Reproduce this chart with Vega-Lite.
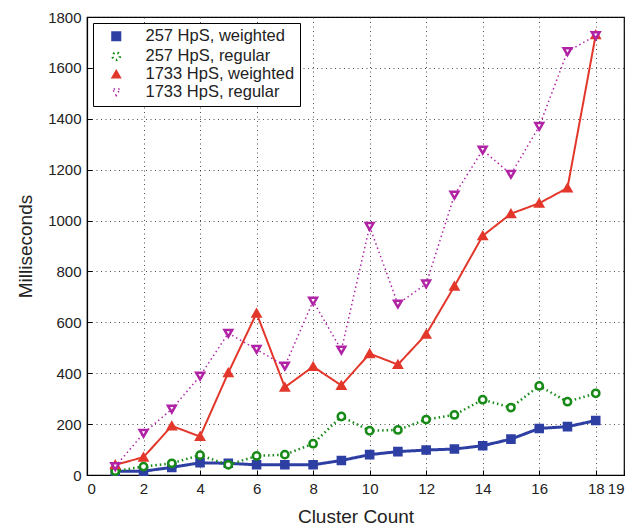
{
  "$schema": "https://vega.github.io/schema/vega-lite/v6.json",
  "autosize": {"type": "none"},
  "padding": {"left": 87, "top": 17, "right": 18, "bottom": 56},
  "width": 537,
  "height": 458,
  "background": "white",
  "config": {
    "font": "Liberation Sans",
    "view": {"stroke": "black", "strokeWidth": 1.2},
    "axis": {
      "labelFont": "Liberation Sans",
      "labelFontSize": 15,
      "labelColor": "#222",
      "titleFont": "Liberation Sans",
      "titleFontSize": 19,
      "titleFontWeight": "normal",
      "titleColor": "#222",
      "domainColor": "black",
      "domainWidth": 1.2,
      "tickColor": "black",
      "tickSize": -5,
      "labelPadding": 11,
      "gridColor": "#222",
      "gridDash": [1, 3.5],
      "gridWidth": 1,
      "gridOpacity": 0.8
    },
    "legend": {
      "labelFont": "Liberation Sans",
      "labelFontSize": 16.5,
      "labelColor": "#222"
    }
  },
  "data": {
    "values": [
      {"x": 1, "series": "257 HpS, weighted", "y": 15},
      {"x": 2, "series": "257 HpS, weighted", "y": 15},
      {"x": 3, "series": "257 HpS, weighted", "y": 30},
      {"x": 4, "series": "257 HpS, weighted", "y": 48},
      {"x": 5, "series": "257 HpS, weighted", "y": 46},
      {"x": 6, "series": "257 HpS, weighted", "y": 40},
      {"x": 7, "series": "257 HpS, weighted", "y": 40},
      {"x": 8, "series": "257 HpS, weighted", "y": 40},
      {"x": 9, "series": "257 HpS, weighted", "y": 57},
      {"x": 10, "series": "257 HpS, weighted", "y": 80},
      {"x": 11, "series": "257 HpS, weighted", "y": 92},
      {"x": 12, "series": "257 HpS, weighted", "y": 98},
      {"x": 13, "series": "257 HpS, weighted", "y": 102},
      {"x": 14, "series": "257 HpS, weighted", "y": 115},
      {"x": 15, "series": "257 HpS, weighted", "y": 141},
      {"x": 16, "series": "257 HpS, weighted", "y": 183},
      {"x": 17, "series": "257 HpS, weighted", "y": 190},
      {"x": 18, "series": "257 HpS, weighted", "y": 214},
      {"x": 1, "series": "257 HpS, regular", "y": 15},
      {"x": 2, "series": "257 HpS, regular", "y": 33},
      {"x": 3, "series": "257 HpS, regular", "y": 46},
      {"x": 4, "series": "257 HpS, regular", "y": 78},
      {"x": 5, "series": "257 HpS, regular", "y": 40},
      {"x": 6, "series": "257 HpS, regular", "y": 75},
      {"x": 7, "series": "257 HpS, regular", "y": 80},
      {"x": 8, "series": "257 HpS, regular", "y": 123},
      {"x": 9, "series": "257 HpS, regular", "y": 230},
      {"x": 10, "series": "257 HpS, regular", "y": 174},
      {"x": 11, "series": "257 HpS, regular", "y": 177},
      {"x": 12, "series": "257 HpS, regular", "y": 218},
      {"x": 13, "series": "257 HpS, regular", "y": 236},
      {"x": 14, "series": "257 HpS, regular", "y": 296},
      {"x": 15, "series": "257 HpS, regular", "y": 265},
      {"x": 16, "series": "257 HpS, regular", "y": 350},
      {"x": 17, "series": "257 HpS, regular", "y": 288},
      {"x": 18, "series": "257 HpS, regular", "y": 321},
      {"x": 1, "series": "1733 HpS, weighted", "y": 40},
      {"x": 2, "series": "1733 HpS, weighted", "y": 70},
      {"x": 3, "series": "1733 HpS, weighted", "y": 193},
      {"x": 4, "series": "1733 HpS, weighted", "y": 151},
      {"x": 5, "series": "1733 HpS, weighted", "y": 402},
      {"x": 6, "series": "1733 HpS, weighted", "y": 636},
      {"x": 7, "series": "1733 HpS, weighted", "y": 345},
      {"x": 8, "series": "1733 HpS, weighted", "y": 426},
      {"x": 9, "series": "1733 HpS, weighted", "y": 352},
      {"x": 10, "series": "1733 HpS, weighted", "y": 477},
      {"x": 11, "series": "1733 HpS, weighted", "y": 434},
      {"x": 12, "series": "1733 HpS, weighted", "y": 553},
      {"x": 13, "series": "1733 HpS, weighted", "y": 742},
      {"x": 14, "series": "1733 HpS, weighted", "y": 940},
      {"x": 15, "series": "1733 HpS, weighted", "y": 1027},
      {"x": 16, "series": "1733 HpS, weighted", "y": 1068},
      {"x": 17, "series": "1733 HpS, weighted", "y": 1128},
      {"x": 18, "series": "1733 HpS, weighted", "y": 1730},
      {"x": 1, "series": "1733 HpS, regular", "y": 33},
      {"x": 2, "series": "1733 HpS, regular", "y": 164},
      {"x": 3, "series": "1733 HpS, regular", "y": 259},
      {"x": 4, "series": "1733 HpS, regular", "y": 389},
      {"x": 5, "series": "1733 HpS, regular", "y": 557},
      {"x": 6, "series": "1733 HpS, regular", "y": 494},
      {"x": 7, "series": "1733 HpS, regular", "y": 428},
      {"x": 8, "series": "1733 HpS, regular", "y": 683},
      {"x": 9, "series": "1733 HpS, regular", "y": 491},
      {"x": 10, "series": "1733 HpS, regular", "y": 977},
      {"x": 11, "series": "1733 HpS, regular", "y": 672},
      {"x": 12, "series": "1733 HpS, regular", "y": 751},
      {"x": 13, "series": "1733 HpS, regular", "y": 1100},
      {"x": 14, "series": "1733 HpS, regular", "y": 1277},
      {"x": 15, "series": "1733 HpS, regular", "y": 1182},
      {"x": 16, "series": "1733 HpS, regular", "y": 1370},
      {"x": 17, "series": "1733 HpS, regular", "y": 1664},
      {"x": 18, "series": "1733 HpS, regular", "y": 1727}
    ]
  },
  "encoding": {
    "x": {
      "field": "x", "type": "quantitative",
      "scale": {"domain": [0, 19], "nice": false, "zero": false},
      "axis": {"title": "Cluster Count", "values": [0, 2, 4, 6, 8, 10, 12, 14, 16, 18, 19], "titlePadding": 11, "grid": true}
    },
    "y": {
      "field": "y", "type": "quantitative",
      "scale": {"domain": [0, 1800], "nice": false},
      "axis": {"title": "Milliseconds", "format": "d", "values": [0, 200, 400, 600, 800, 1000, 1200, 1400, 1600, 1800], "titlePadding": 12, "grid": true}
    },
    "color": {
      "field": "series", "type": "nominal",
      "scale": {"domain": ["257 HpS, weighted", "257 HpS, regular", "1733 HpS, weighted", "1733 HpS, regular"], "range": ["#2e3fa3", "#178a17", "#e3372b", "#b023a5"]},
      "title": null,
      "legend": {
        "orient": "top-left",
        "offset": 6,
        "padding": 5,
        "strokeColor": "black",
        "fillColor": "white",
        "symbolSize": 400,
        "symbolOffset": 10,
        "labelOffset": 21,
        "rowPadding": 1,
        "symbolStrokeWidth": 2.5,
        "encode": {
          "symbols": {
            "update": {
              "fill": {"signal": "datum.value === '257 HpS, weighted' ? '#2e3fa3' : datum.value === '1733 HpS, weighted' ? '#e3372b' : 'white'"},
              "strokeWidth": {"signal": "indexof(datum.value, 'weighted') >= 0 ? 3 : 2.2"}
            }
          }
        }
      }
    }
  },
  "layer": [
    {
      "mark": {"type": "line", "strokeCap": "butt"},
      "encoding": {
        "strokeWidth": {
          "field": "series", "type": "nominal",
          "scale": {"domain": ["257 HpS, weighted", "257 HpS, regular", "1733 HpS, weighted", "1733 HpS, regular"], "range": [3, 1.5, 3, 1.5]},
          "legend": null
        },
        "strokeDash": {
          "field": "series", "type": "nominal",
          "scale": {"domain": ["257 HpS, weighted", "257 HpS, regular", "1733 HpS, weighted", "1733 HpS, regular"], "range": [[1, 0], [1.5, 3], [1, 0], [1.5, 3]]},
          "legend": null
        }
      }
    },
    {
      "mark": {"type": "point", "strokeWidth": 2.5, "opacity": 1, "filled": false},
      "encoding": {
        "fill": {
          "field": "series", "type": "nominal",
          "scale": {"domain": ["257 HpS, weighted", "257 HpS, regular", "1733 HpS, weighted", "1733 HpS, regular"], "range": ["#2e3fa3", "white", "#e3372b", "white"]},
          "legend": null
        },
        "shape": {
          "field": "series", "type": "nominal",
          "scale": {"domain": ["257 HpS, weighted", "257 HpS, regular", "1733 HpS, weighted", "1733 HpS, regular"], "range": ["square", "circle", "triangle-up", "triangle-down"]},
          "legend": null
        },
        "size": {
          "field": "series", "type": "nominal",
          "scale": {"domain": ["257 HpS, weighted", "257 HpS, regular", "1733 HpS, weighted", "1733 HpS, regular"], "range": [50, 60, 150, 160]},
          "legend": null
        }
      }
    }
  ]
}
